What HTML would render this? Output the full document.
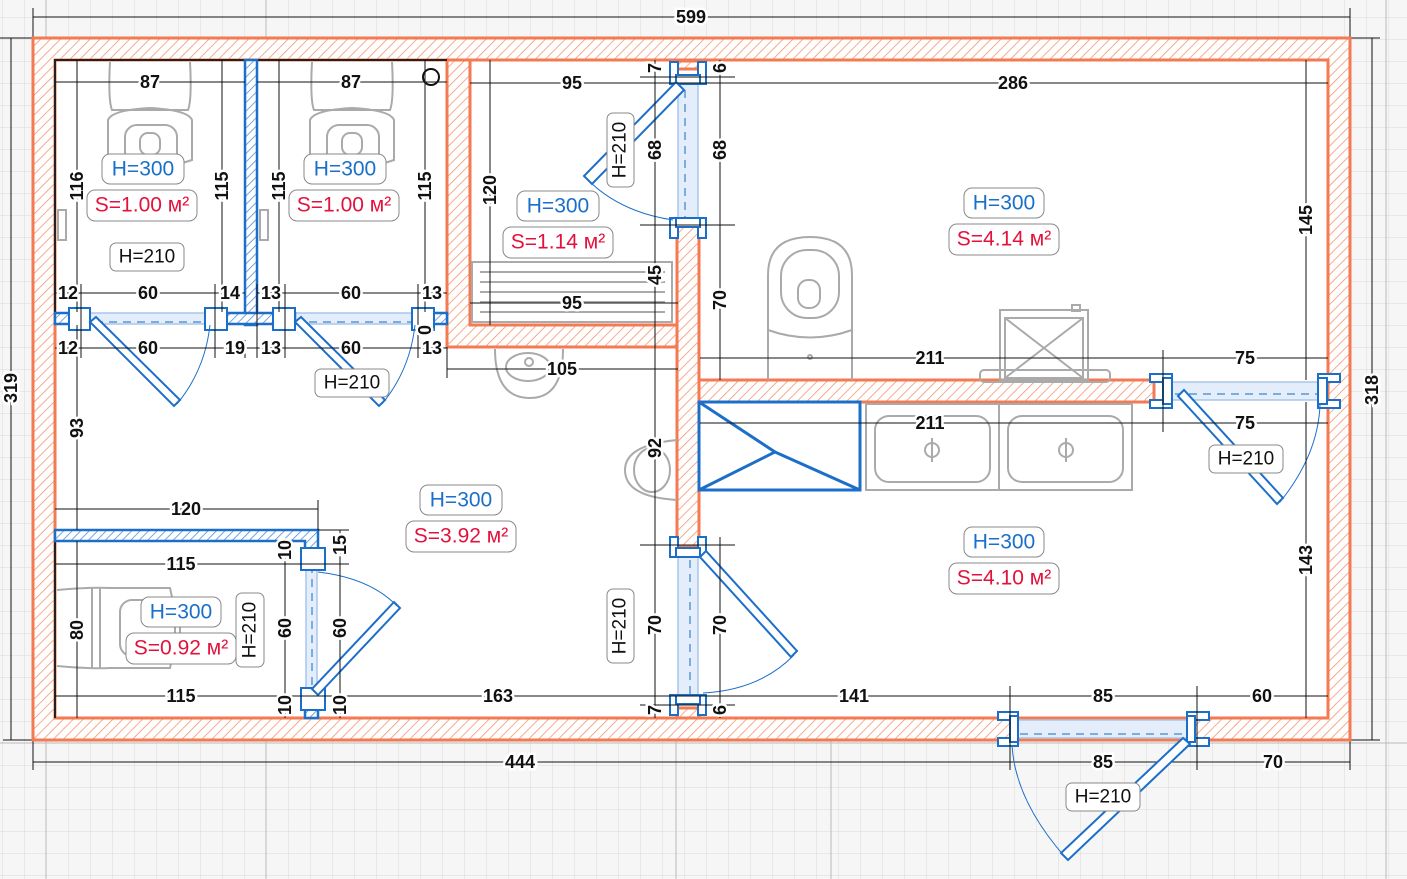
<!DOCTYPE html>
<html><head><meta charset="utf-8"><style>
html,body{margin:0;padding:0;background:#f6f6f6}
svg{display:block}
.d{font-family:"Liberation Sans",sans-serif;font-weight:bold;font-size:18px;fill:#111;stroke:#fff;stroke-width:5px;paint-order:stroke;text-anchor:middle;dominant-baseline:central}
.l{stroke:#111;stroke-width:1;fill:none}
.hb{font-family:"Liberation Sans",sans-serif;font-size:21px;fill:#1a6fc9;text-anchor:middle;dominant-baseline:central}
.sr{font-family:"Liberation Sans",sans-serif;font-size:21px;fill:#e3123c;text-anchor:middle;dominant-baseline:central}
.hk{font-family:"Liberation Sans",sans-serif;font-size:19px;fill:#111;text-anchor:middle;dominant-baseline:central}
.bx{fill:#fff;stroke:#888;stroke-width:1}
.w{fill:url(#ho);stroke:#f47a52;stroke-width:3}
.bw{fill:url(#hbl);stroke:#1c6fc9;stroke-width:2.5}
.jb{fill:#fff;stroke:#1c6fc9;stroke-width:2}
.leaf{fill:#fff;stroke:#1c6fc9;stroke-width:2}
.arc{fill:none;stroke:#1c6fc9;stroke-width:1}
.op{fill:#e4eefa;stroke:#a9c6ec;stroke-width:1.5}
.dash{stroke:#5b95d8;stroke-width:1.5;stroke-dasharray:8 6;fill:none}
.fx{fill:none;stroke:#aaa;stroke-width:2}
</style></head><body>
<svg width="1407" height="879" viewBox="0 0 1407 879" xmlns="http://www.w3.org/2000/svg">
<defs>
<pattern id="grid" width="22" height="22" patternUnits="userSpaceOnUse" x="2" y="17">
<path d="M0 0H22M0 0V22" stroke="#d9d9d9" stroke-width="1" fill="none"/>
</pattern>
<pattern id="ho" width="7" height="7" patternUnits="userSpaceOnUse" patternTransform="rotate(45)">
<rect width="7" height="7" fill="#fff"/><line x1="0" y1="0" x2="0" y2="7" stroke="#f6956f" stroke-width="1.6"/>
</pattern>
<pattern id="hbl" width="6" height="6" patternUnits="userSpaceOnUse" patternTransform="rotate(45)">
<rect width="6" height="6" fill="#fff"/><line x1="0" y1="0" x2="0" y2="6" stroke="#4f8fdb" stroke-width="1.6"/>
</pattern>
</defs>
<rect width="1407" height="879" fill="#f6f6f6"/>
<rect width="1407" height="879" fill="url(#grid)"/>
<line x1="46" y1="0" x2="46" y2="879" stroke="#bbb"/><line x1="266" y1="0" x2="266" y2="879" stroke="#bbb"/>
<line x1="676" y1="740" x2="676" y2="879" stroke="#bbb"/><line x1="831" y1="740" x2="831" y2="879" stroke="#bbb"/>
<line x1="0" y1="743" x2="1407" y2="743" stroke="#bbb"/>
<line x1="1386" y1="0" x2="1386" y2="879" stroke="#bbb"/>
<rect x="33" y="38" width="1317" height="702" fill="#fff"/>
<g class="l">
<line x1="33" y1="17" x2="1350" y2="17"/><line x1="33" y1="8" x2="33" y2="38"/><line x1="1350" y1="8" x2="1350" y2="38"/>
<line x1="0" y1="38" x2="33" y2="38"/>
<line x1="11" y1="38" x2="11" y2="740"/><line x1="3" y1="740" x2="33" y2="740"/>
<line x1="1372" y1="38" x2="1372" y2="740"/><line x1="1350" y1="38" x2="1380" y2="38"/><line x1="1350" y1="740" x2="1380" y2="740"/>
<line x1="33" y1="762" x2="1350" y2="762"/><line x1="33" y1="740" x2="33" y2="770"/><line x1="1010" y1="740" x2="1010" y2="770"/><line x1="1197" y1="740" x2="1197" y2="770"/><line x1="1350" y1="740" x2="1350" y2="770"/>
</g>
<path class="w" fill-rule="evenodd" d="M33 38H1350V740H33Z M55 60V718H1328V60Z"/>
<path class="w" d="M447 60H470V325H677V347H447Z"/>
<rect class="w" x="677" y="225" width="22" height="322"/>
<rect class="w" x="677" y="61" width="22" height="8"/>
<rect class="w" x="677" y="708" width="22" height="10"/>
<rect class="w" x="699" y="380" width="455" height="22"/>
<g stroke="#222" stroke-width="2" fill="none">
<path d="M55 312V60H245V312"/><path d="M257 312V60H447"/><path d="M55 530V718"/>
</g>
<g class="fx">
<path d="M110 62 Q108 100 112 110 L188 110 Q192 100 190 62"/><path d="M108 120 Q112 110 150 108 Q188 110 192 120 L192 160 Q150 175 108 160Z"/><rect x="125" y="125" width="52" height="40" rx="12"/><rect x="140" y="133" width="20" height="22" rx="8"/>
<path d="M312 62 Q310 100 314 110 L390 110 Q394 100 392 62"/><path d="M310 120 Q314 110 352 108 Q390 110 394 120 L394 160 Q352 175 310 160Z"/><rect x="327" y="125" width="52" height="40" rx="12"/><rect x="342" y="133" width="20" height="22" rx="8"/>
<rect x="58" y="210" width="8" height="30"/><rect x="260" y="210" width="8" height="30"/>
<rect x="472" y="262" width="200" height="60"/><line x1="480" y1="272" x2="665" y2="272"/><line x1="480" y1="282" x2="665" y2="282"/><line x1="480" y1="292" x2="665" y2="292"/><line x1="480" y1="302" x2="665" y2="302"/><line x1="480" y1="312" x2="665" y2="312"/>
<path d="M495 349 Q495 398 530 398 Q563 398 563 349"/><ellipse cx="528" cy="367" rx="22" ry="14"/><circle cx="529" cy="362" r="4"/>
<path d="M677 440 Q625 445 625 470 Q625 497 677 500"/><ellipse cx="652" cy="470" rx="18" ry="22"/>
<path d="M768 380 L768 275 Q768 237 810 237 Q852 237 852 275 L852 380"/><rect x="781" y="250" width="58" height="68" rx="26"/><rect x="798" y="280" width="22" height="28" rx="10"/><path d="M768 330 Q810 345 852 330"/><circle cx="810" cy="357" r="2"/>
<rect x="1000" y="310" width="88" height="70"/><rect x="1005" y="318" width="78" height="60"/><line x1="1005" y1="318" x2="1083" y2="378"/><line x1="1083" y1="318" x2="1005" y2="378"/><rect x="1072" y="305" width="8" height="6"/><rect x="980" y="370" width="130" height="12" rx="4"/>
<rect x="866" y="404" width="266" height="86"/><line x1="999" y1="404" x2="999" y2="490"/><rect x="875" y="416" width="115" height="66" rx="14"/><rect x="1008" y="416" width="115" height="66" rx="14"/><circle cx="932" cy="450" r="7"/><circle cx="1066" cy="450" r="7"/><line x1="932" y1="438" x2="932" y2="462"/><line x1="1066" y1="438" x2="1066" y2="462"/>
<path d="M57 590 Q90 587 110 588 L170 588 Q180 628 170 668 L110 668 Q90 669 57 666"/><rect x="120" y="600" width="60" height="56" rx="12"/><line x1="92" y1="588" x2="92" y2="668"/><line x1="100" y1="588" x2="100" y2="668"/>
</g>
<g fill="none" stroke="#1c6fc9" stroke-width="3"><rect x="699" y="402" width="161" height="88"/><path d="M699 402 L775 452 L699 490 M775 452 L860 490"/></g>
<rect class="bw" x="245" y="60" width="12" height="265"/>
<rect class="op" x="81" y="313" width="134" height="11"/><line class="dash" x1="81" y1="322" x2="215" y2="322"/>
<rect class="op" x="295" y="313" width="125" height="11"/><line class="dash" x1="295" y1="322" x2="420" y2="322"/>
<rect class="bw" x="55" y="313" width="26" height="11"/><rect class="bw" x="215" y="313" width="80" height="11"/><rect class="bw" x="418" y="313" width="29" height="11"/>
<path class="bw" d="M55 530H318V560H305V541H55Z"/><rect class="bw" x="305" y="690" width="13" height="28"/>
<rect class="op" x="306" y="560" width="11" height="130"/><line class="dash" x1="312" y1="565" x2="312" y2="688"/>
<rect class="op" x="678" y="82" width="20" height="140"/><line class="dash" x1="685" y1="90" x2="685" y2="218"/>
<rect class="op" x="678" y="557" width="20" height="140"/><line class="dash" x1="690" y1="560" x2="690" y2="695"/>
<rect class="op" x="1170" y="382" width="150" height="18"/><line class="dash" x1="1175" y1="394" x2="1318" y2="394"/>
<rect class="op" x="1016" y="720" width="172" height="18"/><line class="dash" x1="1020" y1="734" x2="1185" y2="734"/>
<g class="jb">
<rect x="69" y="308" width="21" height="22"/><rect x="205" y="308" width="22" height="22"/>
<rect x="273" y="308" width="22" height="22"/><rect x="412" y="308" width="22" height="22"/>
<rect x="301" y="548" width="24" height="22"/><rect x="301" y="688" width="24" height="22"/>
<rect x="670" y="62" width="8" height="22"/><rect x="698" y="62" width="8" height="22"/><rect x="676" y="75" width="24" height="9"/>
<rect x="670" y="218" width="8" height="20"/><rect x="698" y="218" width="8" height="20"/><rect x="676" y="218" width="24" height="9"/>
<rect x="670" y="537" width="8" height="20"/><rect x="698" y="537" width="8" height="20"/><rect x="676" y="548" width="24" height="9"/>
<rect x="670" y="695" width="8" height="20"/><rect x="698" y="695" width="8" height="20"/><rect x="676" y="695" width="24" height="9"/>
<rect x="1150" y="374" width="22" height="8"/><rect x="1150" y="400" width="22" height="8"/><rect x="1163" y="378" width="9" height="26"/>
<rect x="1318" y="374" width="22" height="8"/><rect x="1318" y="400" width="22" height="8"/><rect x="1318" y="378" width="9" height="26"/>
<rect x="998" y="712" width="20" height="8"/><rect x="998" y="738" width="20" height="8"/><rect x="1010" y="716" width="8" height="26"/>
<rect x="1187" y="712" width="22" height="8"/><rect x="1187" y="738" width="22" height="8"/><rect x="1187" y="716" width="8" height="26"/>
</g>
<g class="leaf">
<polygon points="90,322 96,317 180,400 174,406"/>
<polygon points="295,322 301,317 385,400 379,406"/>
<polygon points="676,82 684,90 592,184 584,176"/>
<polygon points="312,689 318,695 400,608 394,602"/>
<polygon points="700,557 706,551 797,651 791,657"/>
<polygon points="1178,396 1184,390 1283,498 1277,504"/>
<polygon points="1183,738 1190,744 1068,860 1061,853"/>
</g>
<g class="arc">
<path d="M177 404 Q205 370 210 325"/>
<path d="M382 404 Q410 370 415 325"/>
<path d="M588 180 Q620 212 673 220"/>
<path d="M318 572 Q370 578 397 606"/>
<path d="M794 655 Q760 690 703 693"/>
<path d="M1280 502 Q1318 455 1320 405"/>
<path d="M1065 857 Q1015 800 1012 745"/>
</g>
<circle cx="431" cy="77" r="8" fill="#fff" stroke="#111" stroke-width="2"/>
<g class="l">
<line x1="55" y1="82" x2="245" y2="82"/><line x1="257" y1="82" x2="447" y2="82"/>
<line x1="77" y1="60" x2="77" y2="312"/><line x1="222" y1="60" x2="222" y2="312"/><line x1="279" y1="60" x2="279" y2="312"/><line x1="425" y1="60" x2="425" y2="312"/>
<line x1="55" y1="293" x2="245" y2="293"/><line x1="257" y1="293" x2="447" y2="293"/>
<line x1="55" y1="348" x2="447" y2="348"/>
<line x1="81" y1="284" x2="81" y2="358"/><line x1="215" y1="284" x2="215" y2="358"/><line x1="245" y1="340" x2="245" y2="358"/><line x1="257" y1="284" x2="257" y2="358"/><line x1="285" y1="284" x2="285" y2="358"/><line x1="418" y1="284" x2="418" y2="358"/>
<line x1="77" y1="325" x2="77" y2="530"/>
<line x1="55" y1="509" x2="318" y2="509"/><line x1="318" y1="500" x2="318" y2="530"/>
<line x1="55" y1="564" x2="349" y2="564"/><line x1="55" y1="696" x2="1328" y2="696"/>
<line x1="77" y1="541" x2="77" y2="718"/>
<line x1="285" y1="541" x2="285" y2="718"/><line x1="340" y1="530" x2="340" y2="718"/><line x1="318" y1="530" x2="349" y2="530"/>
<line x1="447" y1="369" x2="678" y2="369"/><line x1="447" y1="347" x2="447" y2="378"/>
<line x1="655" y1="60" x2="655" y2="718"/><line x1="720" y1="60" x2="720" y2="380"/><line x1="720" y1="537" x2="720" y2="718"/>
<line x1="640" y1="77" x2="735" y2="77"/><line x1="640" y1="225" x2="735" y2="225"/><line x1="640" y1="545" x2="735" y2="545"/><line x1="640" y1="705" x2="735" y2="705"/>
<line x1="470" y1="83" x2="1328" y2="83"/><line x1="490" y1="60" x2="490" y2="325"/><line x1="470" y1="303" x2="678" y2="303"/>
<line x1="700" y1="358" x2="1328" y2="358"/><line x1="700" y1="423" x2="1328" y2="423"/><line x1="1163" y1="350" x2="1163" y2="432"/>
<line x1="1306" y1="60" x2="1306" y2="380"/><line x1="1306" y1="402" x2="1306" y2="718"/>
<line x1="1010" y1="686" x2="1010" y2="770"/><line x1="1197" y1="686" x2="1197" y2="770"/>
</g>
<g class="d">
<text x="691" y="17">599</text>
<text x="11" y="388" transform="rotate(-90 11 388)">319</text>
<text x="1372" y="390" transform="rotate(-90 1372 390)">318</text>
<text x="520" y="762">444</text><text x="1103" y="762">85</text><text x="1273" y="762">70</text>
<text x="150" y="82">87</text><text x="351" y="82">87</text>
<text x="77" y="186" transform="rotate(-90 77 186)">116</text>
<text x="222" y="186" transform="rotate(-90 222 186)">115</text>
<text x="279" y="186" transform="rotate(-90 279 186)">115</text>
<text x="425" y="186" transform="rotate(-90 425 186)">115</text>
<text x="68" y="293">12</text><text x="148" y="293">60</text><text x="230" y="293">14</text>
<text x="271" y="293">13</text><text x="351" y="293">60</text><text x="432" y="293">13</text>
<text x="68" y="348">12</text><text x="148" y="348">60</text><text x="235" y="348">19</text><text x="271" y="348">13</text><text x="351" y="348">60</text><text x="432" y="348">13</text>
<text x="425" y="330" transform="rotate(-90 425 330)">0</text>
<text x="77" y="428" transform="rotate(-90 77 428)">93</text>
<text x="186" y="509">120</text><text x="181" y="564">115</text><text x="181" y="696">115</text>
<text x="77" y="630" transform="rotate(-90 77 630)">80</text>
<text x="285" y="550" transform="rotate(-90 285 550)">10</text><text x="340" y="545" transform="rotate(-90 340 545)">15</text>
<text x="285" y="628" transform="rotate(-90 285 628)">60</text><text x="340" y="628" transform="rotate(-90 340 628)">60</text>
<text x="285" y="705" transform="rotate(-90 285 705)">10</text><text x="340" y="705" transform="rotate(-90 340 705)">10</text>
<text x="498" y="696">163</text><text x="562" y="369">105</text>
<text x="655" y="448" transform="rotate(-90 655 448)">92</text>
<text x="655" y="625" transform="rotate(-90 655 625)">70</text><text x="720" y="625" transform="rotate(-90 720 625)">70</text>
<text x="655" y="710" transform="rotate(-90 655 710)">7</text><text x="720" y="710" transform="rotate(-90 720 710)">6</text>
<text x="572" y="83">95</text><text x="1013" y="83">286</text>
<text x="490" y="190" transform="rotate(-90 490 190)">120</text>
<text x="655" y="150" transform="rotate(-90 655 150)">68</text><text x="720" y="150" transform="rotate(-90 720 150)">68</text>
<text x="655" y="68" transform="rotate(-90 655 68)">7</text><text x="720" y="68" transform="rotate(-90 720 68)">6</text>
<text x="655" y="275" transform="rotate(-90 655 275)">45</text><text x="572" y="303">95</text>
<text x="720" y="300" transform="rotate(-90 720 300)">70</text>
<text x="1306" y="220" transform="rotate(-90 1306 220)">145</text>
<text x="930" y="358">211</text><text x="1245" y="358">75</text>
<text x="930" y="423">211</text><text x="1245" y="423">75</text>
<text x="1306" y="560" transform="rotate(-90 1306 560)">143</text>
<text x="854" y="696">141</text><text x="1103" y="696">85</text><text x="1262" y="696">60</text>
</g>
<g>
<rect class="bx" x="102" y="154" width="82" height="30" rx="8"/><text class="hb" x="143" y="169">H=300</text>
<rect class="bx" x="87" y="190" width="110" height="31" rx="8"/><text class="sr" x="142" y="205">S=1.00 м²</text>
<rect class="bx" x="110" y="243" width="74" height="28" rx="6"/><text class="hk" x="147" y="257">H=210</text>
<rect class="bx" x="304" y="154" width="82" height="30" rx="8"/><text class="hb" x="345" y="169">H=300</text>
<rect class="bx" x="289" y="190" width="110" height="31" rx="8"/><text class="sr" x="344" y="205">S=1.00 м²</text>
<rect class="bx" x="315" y="369" width="74" height="28" rx="6"/><text class="hk" x="352" y="383">H=210</text>
<rect class="bx" x="517" y="191" width="82" height="30" rx="8"/><text class="hb" x="558" y="206">H=300</text>
<rect class="bx" x="503" y="227" width="110" height="31" rx="8"/><text class="sr" x="558" y="242">S=1.14 м²</text>
<rect class="bx" x="607" y="113" width="27" height="74" rx="6"/><text class="hk" x="620" y="150" transform="rotate(-90 620 150)">H=210</text>
<rect class="bx" x="964" y="188" width="80" height="30" rx="8"/><text class="hb" x="1004" y="203">H=300</text>
<rect class="bx" x="949" y="224" width="110" height="31" rx="8"/><text class="sr" x="1004" y="239">S=4.14 м²</text>
<rect class="bx" x="420" y="485" width="82" height="30" rx="8"/><text class="hb" x="461" y="500">H=300</text>
<rect class="bx" x="406" y="521" width="110" height="31" rx="8"/><text class="sr" x="461" y="536">S=3.92 м²</text>
<rect class="bx" x="141" y="597" width="80" height="30" rx="8"/><text class="hb" x="181" y="612">H=300</text>
<rect class="bx" x="126" y="633" width="110" height="31" rx="8"/><text class="sr" x="181" y="648">S=0.92 м²</text>
<rect class="bx" x="236" y="593" width="28" height="74" rx="6"/><text class="hk" x="250" y="630" transform="rotate(-90 250 630)">H=210</text>
<rect class="bx" x="607" y="589" width="27" height="74" rx="6"/><text class="hk" x="620" y="626" transform="rotate(-90 620 626)">H=210</text>
<rect class="bx" x="1209" y="445" width="74" height="28" rx="6"/><text class="hk" x="1246" y="459">H=210</text>
<rect class="bx" x="964" y="527" width="80" height="30" rx="8"/><text class="hb" x="1004" y="542">H=300</text>
<rect class="bx" x="949" y="563" width="110" height="31" rx="8"/><text class="sr" x="1004" y="578">S=4.10 м²</text>
<rect class="bx" x="1066" y="783" width="74" height="28" rx="6"/><text class="hk" x="1103" y="797">H=210</text>
</g>
</svg>
</body></html>
